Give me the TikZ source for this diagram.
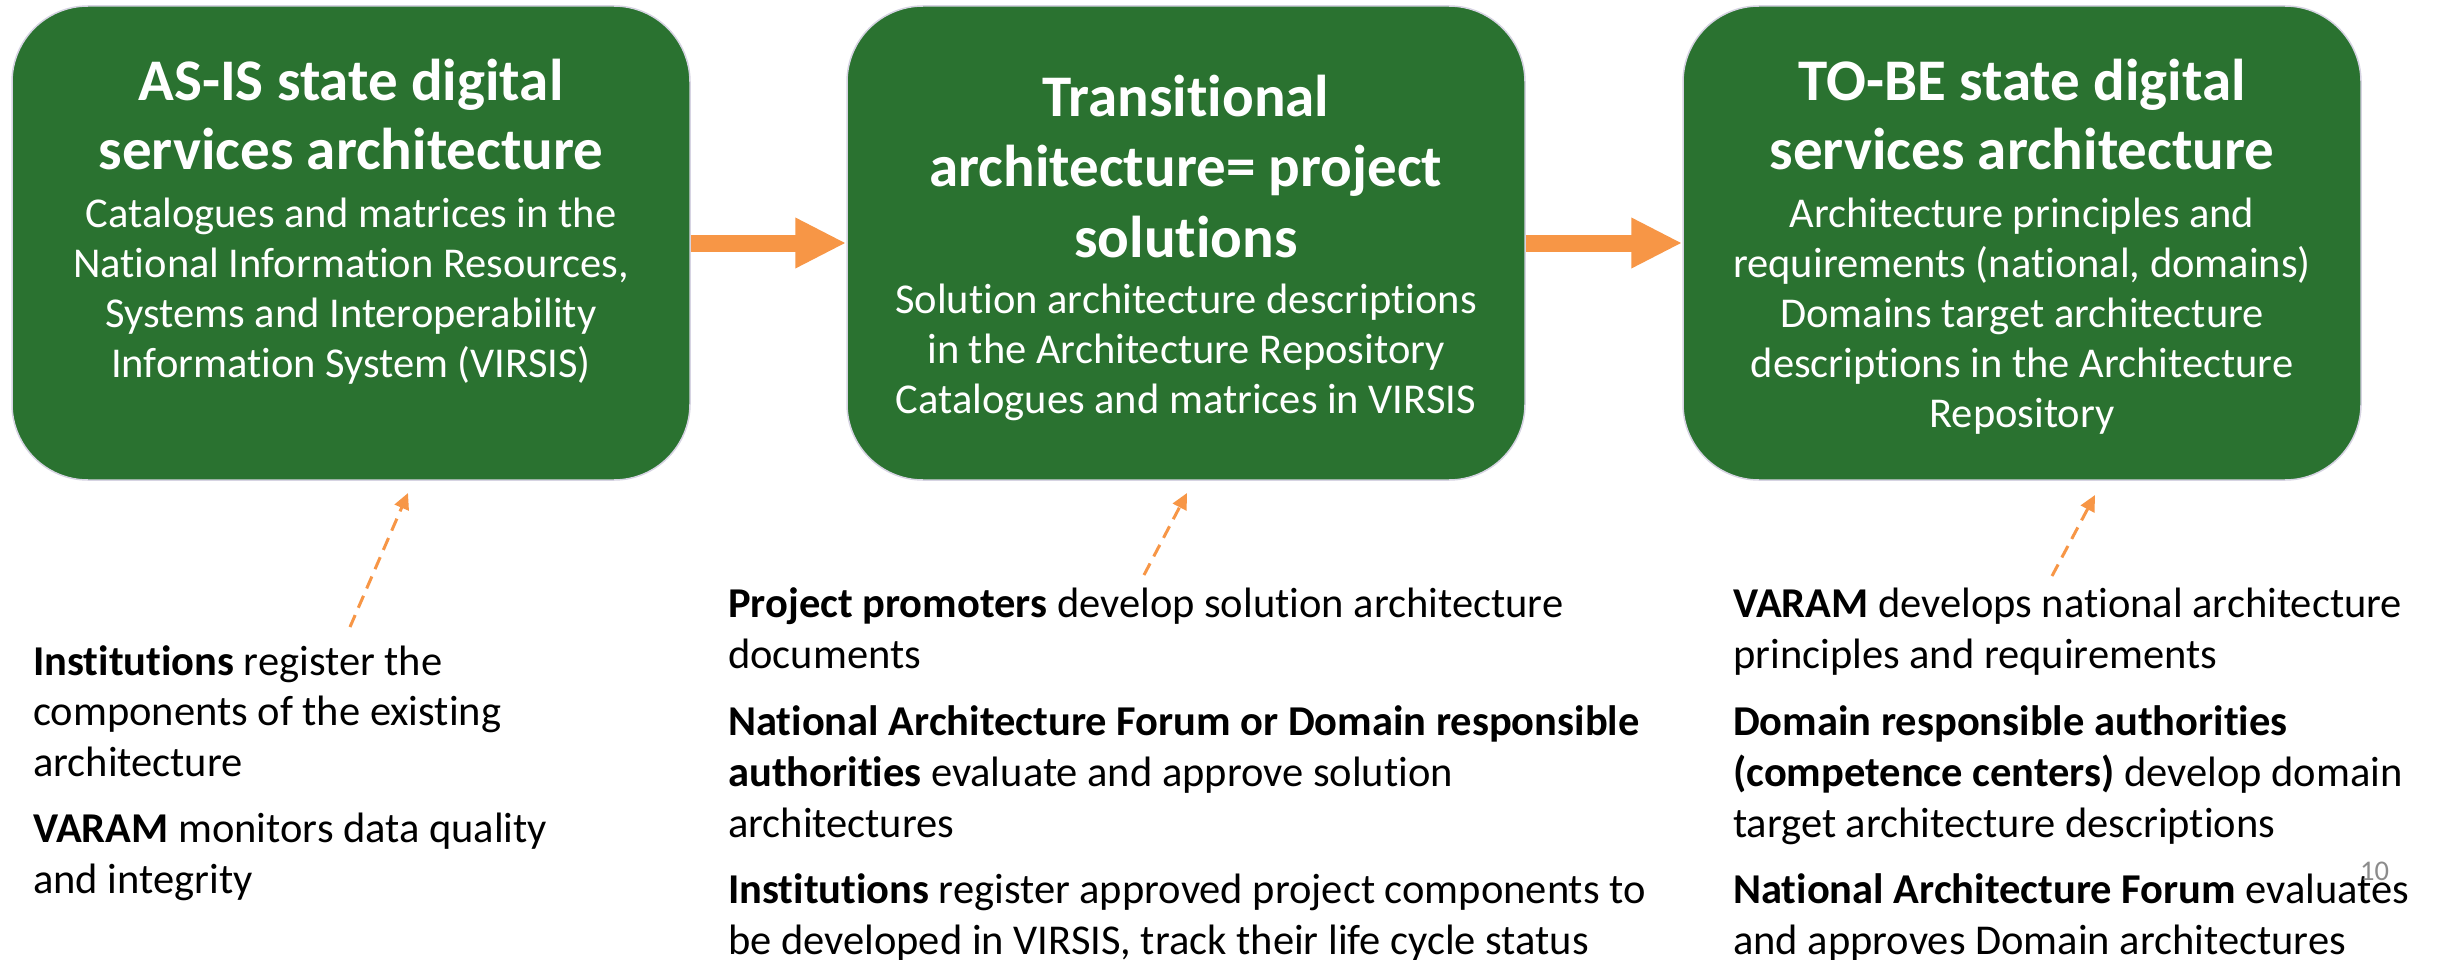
\documentclass[tikz,border=0pt]{standalone}
\usepackage{fontspec}
\setmainfont[Ligatures={NoCommon}]{Carlito}
\usetikzlibrary{arrows.meta}
\definecolor{boxgreen}{HTML}{2A7230}
\definecolor{arrorange}{HTML}{F79646}
\definecolor{pagegray}{HTML}{8C8C8C}
\definecolor{boxedge}{HTML}{D6D3E2}
\begin{document}
\begin{tikzpicture}[x=1pt,y=-1pt,
  box/.style={fill=boxgreen, draw=boxedge, line width=1.5pt, rounded corners=76pt,
              minimum width=678pt, minimum height=474pt, inner sep=0pt},
  ttl/.style={anchor=base, inner sep=0pt, text=white, font=\fontsize{59}{68}\selectfont\bfseries},
  bod/.style={anchor=base, inner sep=0pt, text=white, font=\fontsize{42.5}{50}\selectfont},
  txt/.style={anchor=base west, inner sep=0pt, text=black, font=\fontsize{42.5}{50}\selectfont},
  flow/.style={draw=arrorange, line width=17pt, -{Triangle[length=51pt,width=47pt]}},
  hint/.style={draw=arrorange, line width=3pt, dash pattern=on 13pt off 8pt,
               -{Triangle[length=16pt,width=15pt]}}
]
\useasboundingbox (0,0) rectangle (2438,960);
\fill[white] (0,0) rectangle (2438,960);

% boxes
\node[box] (b1) at (351,243) {};
\node[box] (b2) at (1186,243) {};
\node[box] (b3) at (2022,243) {};

% box 1 text
\node[ttl] (b1t1) at (351,101) {AS-IS state digital};
\node[ttl] (b1t2) at (351,170) {services architecture};
\node[bod] (b1l1) at (351,227) {Catalogues and matrices in the};
\node[bod] (b1l2) at (351,277) {National Information Resources,};
\node[bod] (b1l3) at (351,327) {Systems and Interoperability};
\node[bod] (b1l4) at (351,377) {Information System (VIRSIS)};

% box 2 text
\node[ttl] (b2t1) at (1186,117) {Transitional};
\node[ttl] (b2t2) at (1186,187) {architecture= project};
\node[ttl] (b2t3) at (1186,257) {solutions};
\node[bod] (b2l1) at (1186,313) {Solution architecture descriptions};
\node[bod] (b2l2) at (1186,363) {in the Architecture Repository};
\node[bod] (b2l3) at (1186,413) {Catalogues and matrices in VIRSIS};

% box 3 text
\node[ttl] (b3t1) at (2022,101) {TO-BE state digital};
\node[ttl] (b3t2) at (2022,170) {services architecture};
\node[bod] (b3l1) at (2022,227) {Architecture principles and};
\node[bod] (b3l2) at (2022,277) {requirements (national, domains)};
\node[bod] (b3l3) at (2022,327) {Domains target architecture};
\node[bod] (b3l4) at (2022,377) {descriptions in the Architecture};
\node[bod] (b3l5) at (2022,427) {Repository};

% flow arrows
\draw[flow] (b1.east) -- (b2.west);
\draw[flow] (b2.east) -- (b3.west);

% dashed hint arrows
\coordinate (h1s) at (350,627);
\coordinate (h1e) at (408,493);
\coordinate (h2s) at (1144,575);
\coordinate (h2e) at (1187,493);
\coordinate (h3s) at (2052,576);
\coordinate (h3e) at (2095,495);
\draw[hint] (h1s) -- (h1e);
\draw[hint] (h2s) -- (h2e);
\draw[hint] (h3s) -- (h3e);

% left column
\node[txt] (la1) at (33,675) {\textbf{Institutions} register the};
\node[txt] (la2) at (33,725) {components of the existing};
\node[txt] (la3) at (33,776) {architecture};
\node[txt] (lb1) at (33,842) {\textbf{VARAM} monitors data quality};
\node[txt] (lb2) at (33,893) {and integrity};

% middle column
\node[txt] (ma1) at (728,617) {\textbf{Project promoters} develop solution architecture};
\node[txt] (ma2) at (728,668) {documents};
\node[txt] (mb1) at (728,735) {\textbf{National Architecture Forum or Domain responsible}};
\node[txt] (mb2) at (728,786) {\textbf{authorities} evaluate and approve solution};
\node[txt] (mb3) at (728,837) {architectures};
\node[txt] (mc1) at (728,903) {\textbf{Institutions} register approved project components to};
\node[txt] (mc2) at (728,954) {be developed in VIRSIS, track their life cycle status};

% right column
\node[txt] (ra1) at (1733,617) {\textbf{VARAM} develops national architecture};
\node[txt] (ra2) at (1733,668) {principles and requirements};
\node[txt] (rb1) at (1733,735) {\textbf{Domain responsible authorities}};
\node[txt] (rb2) at (1733,786) {\textbf{(competence centers)} develop domain};
\node[txt] (rb3) at (1733,837) {target architecture descriptions};
\node[txt] (rc1) at (1733,903) {\textbf{National Architecture Forum} evaluates};
\node[txt] (rc2) at (1733,954) {and approves Domain architectures};

% page number
\node[anchor=base west, inner sep=0pt, text=pagegray, font=\fontsize{28.5}{34}\selectfont] (pg) at (2360,880) {10};
\end{tikzpicture}
\end{document}
